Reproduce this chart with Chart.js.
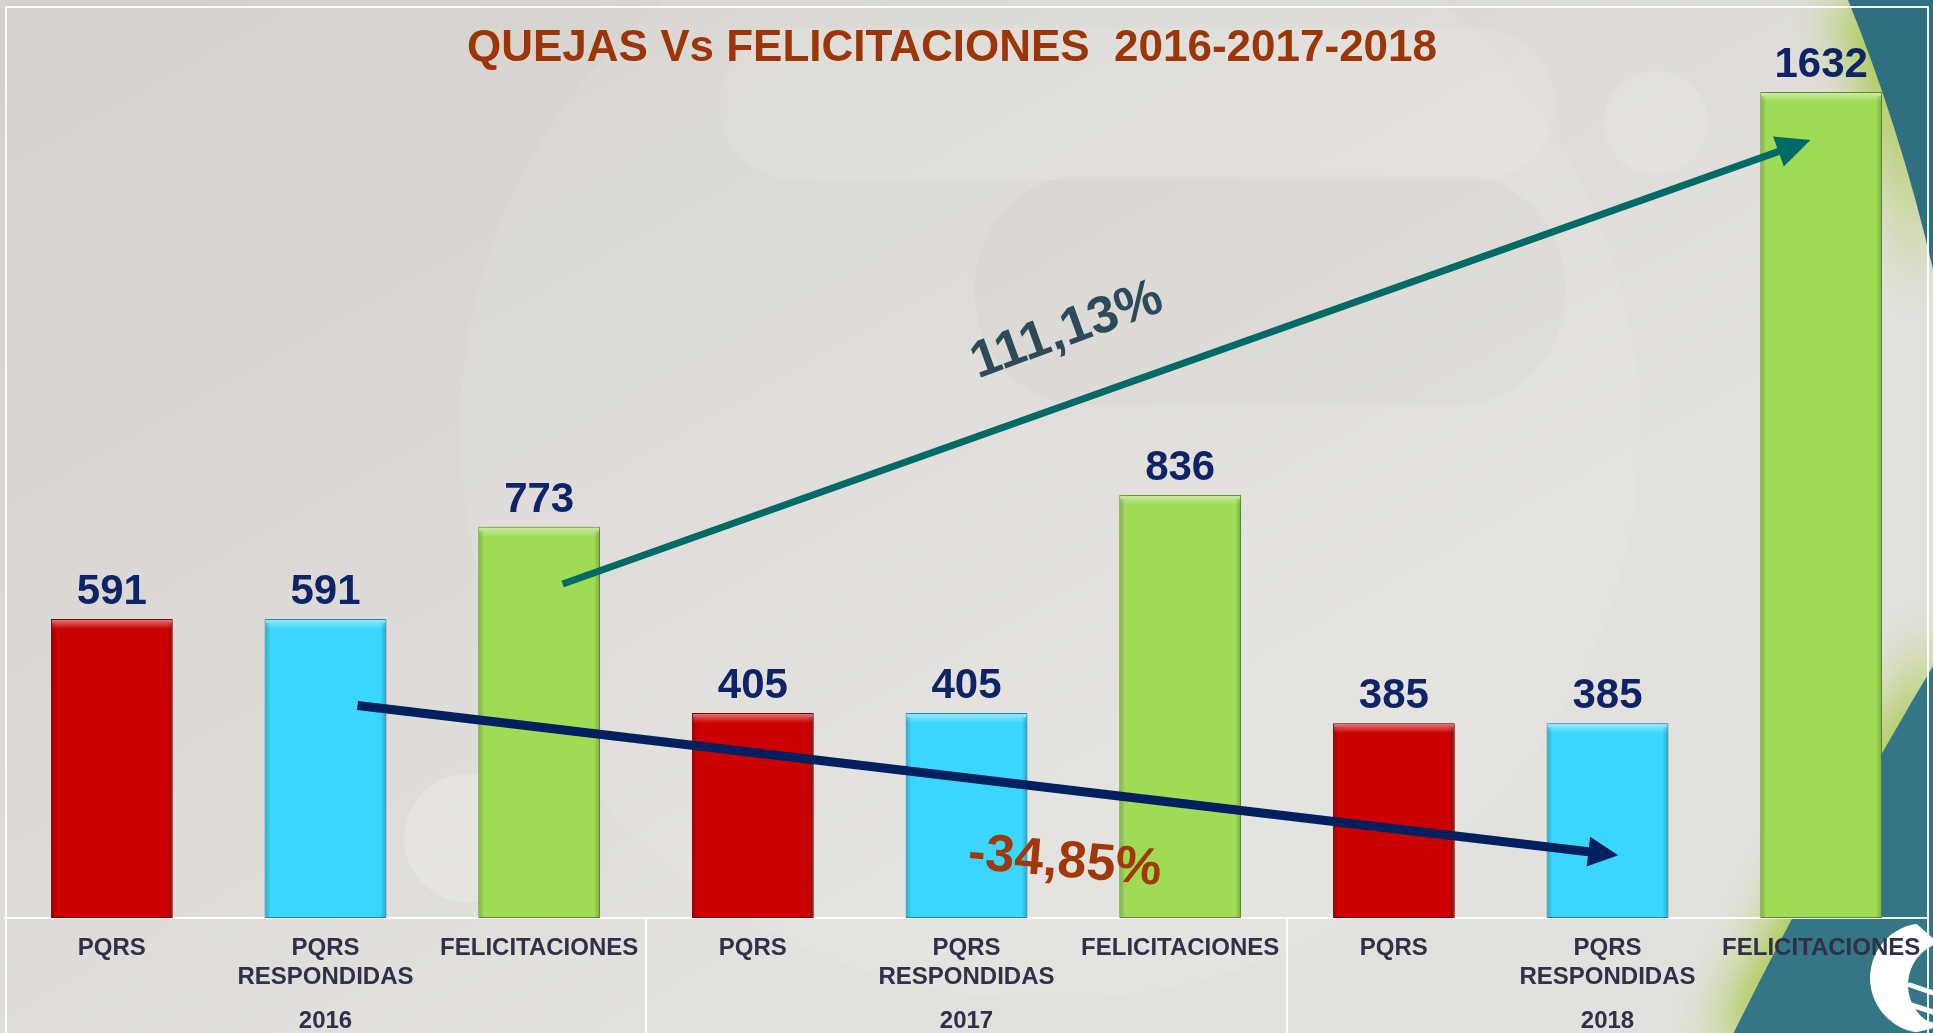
<!DOCTYPE html>
<html>
<head>
<meta charset="utf-8">
<script src="https://cdn.jsdelivr.net/npm/chart.js@4.4.0/dist/chart.umd.min.js"></script>
<style>
  html, body { margin: 0; padding: 0; overflow: hidden; background: #dcd9d5; }
  #wrap { width: 1933px; height: 1033px; position: relative; }
</style>
</head>
<body>
<div id="wrap"><canvas id="grafico"></canvas></div>
<script>
const categorias = [
  ['PQRS'], ['PQRS', 'RESPONDIDAS'], ['FELICITACIONES'],
  ['PQRS'], ['PQRS', 'RESPONDIDAS'], ['FELICITACIONES'],
  ['PQRS'], ['PQRS', 'RESPONDIDAS'], ['FELICITACIONES'],
];
const anios = ['2016', '2017', '2018'];
const valores = [591, 591, 773, 405, 405, 836, 385, 385, 1632];
const titulo = 'QUEJAS Vs FELICITACIONES  2016-2017-2018';

// flechas y porcentajes en coordenadas de datos (indice categoria, valor)
const flechaSube = { desde: [2.11, 660], hasta: [7.95, 1537] };
const flechaBaja = { desde: [1.15, 420], hasta: [7.05, 124] };
const notaSube = { texto: '111,13%', pos: [4.47, 1160], giro: -20 };
const notaBaja = { texto: '-34,85%', pos: [4.46, 110], giro: 5 };

const FUENTE = "'Liberation Sans', Arial, sans-serif";
const paleta = ['#CC0000', '#3AD6FD', '#9FDB55'];
const colores = valores.map((v, i) => paleta[i % 3]);
const bordes = valores.map((v, i) => ['#8E0000', '#1E9CC0', '#6E9E34'][i % 3]);

function ellipse(ctx, x, y, rx, ry, color) {
  ctx.beginPath();
  ctx.ellipse(x, y, rx, ry, 0, 0, Math.PI * 2);
  ctx.fillStyle = color;
  ctx.fill();
}

function roundRect(ctx, x, y, w, h, r, color) {
  ctx.beginPath();
  ctx.roundRect(x, y, w, h, r);
  ctx.fillStyle = color;
  ctx.fill();
}

const fondo = {
  id: 'fondo',
  beforeDraw(chart) {
    const { ctx, width, height } = chart;
    ctx.save();
    const g = ctx.createLinearGradient(0, 0, width * 0.3, height);
    g.addColorStop(0, '#D4D1CD');
    g.addColorStop(1, '#E3E1DD');
    ctx.fillStyle = g;
    ctx.fillRect(0, 0, width, height);

    // marca de agua difusa
    ellipse(ctx, 1050, 430, 590, 570, 'rgba(255,255,255,0.08)');
    roundRect(ctx, 975, 175, 590, 230, 110, 'rgba(110,100,90,0.035)');
    roundRect(ctx, 720, 28, 836, 152, 76, 'rgba(255,255,255,0.1)');
    ellipse(ctx, 1656, 123, 52, 52, 'rgba(255,255,255,0.14)');
    ellipse(ctx, 468, 838, 64, 64, 'rgba(255,255,255,0.2)');

    // franjas teal a la derecha con brillo verde
    ctx.shadowColor = 'rgba(160,200,60,0.95)';
    ctx.shadowBlur = 50;
    ctx.shadowOffsetX = -18;
    ctx.fillStyle = '#306F80';
    ctx.beginPath();
    ctx.moveTo(1848, 0);
    ctx.quadraticCurveTo(1905, 140, 1940, 300);
    ctx.lineTo(1940, 0);
    ctx.closePath();
    ctx.fill();
    ctx.fillStyle = '#347686';
    ctx.beginPath();
    ctx.moveTo(1955, 630);
    ctx.quadraticCurveTo(1850, 800, 1730, 1040);
    ctx.lineTo(1940, 1040);
    ctx.closePath();
    ctx.fill();
    ctx.shadowColor = 'transparent';
    ctx.shadowBlur = 0;
    ctx.shadowOffsetX = 0;

    // logo blanco
    ctx.fillStyle = '#FFFFFF';
    ctx.beginPath();
    ctx.arc(1925, 978, 55, Math.PI * 0.55, Math.PI * 1.45);
    ctx.arc(1952, 985, 44, Math.PI * 1.4, Math.PI * 0.6, true);
    ctx.closePath();
    ctx.fill();
    ctx.lineCap = 'round';
    ctx.strokeStyle = '#FFFFFF';
    ctx.lineWidth = 5;
    [[1910, 985, 1933, 993], [1902, 1002, 1933, 1012], [1910, 1018, 1933, 1025]].forEach(([a, b, c, d]) => {
      ctx.beginPath();
      ctx.moveTo(a, b);
      ctx.lineTo(c, d);
      ctx.stroke();
    });

    // marco blanco
    const area = chart.chartArea;
    const x = chart.scales.x;
    ctx.strokeStyle = 'rgba(255,255,255,0.92)';
    ctx.lineWidth = 2;
    ctx.beginPath();
    ctx.moveTo(area.left + 1, height);
    ctx.lineTo(area.left + 1, area.top);
    ctx.lineTo(area.right, area.top);
    ctx.lineTo(area.right, height);
    ctx.moveTo(area.left, area.bottom);
    ctx.lineTo(area.right, area.bottom);
    [2, 5].forEach(i => {
      const px = (x.getPixelForValue(i) + x.getPixelForValue(i + 1)) / 2;
      ctx.moveTo(px, area.bottom);
      ctx.lineTo(px, height);
    });
    ctx.stroke();
    ctx.restore();
  },
  beforeDatasetDraw(chart) {
    const ctx = chart.ctx;
    ctx.save();
    ctx.shadowColor = 'rgba(0,0,0,0.28)';
    ctx.shadowBlur = 6;
    ctx.shadowOffsetX = 2;
  },
  afterDatasetDraw(chart) {
    chart.ctx.restore();
  },
};

function drawArrow(ctx, x1, y1, x2, y2, color, lw, hl, hw) {
  const ang = Math.atan2(y2 - y1, x2 - x1);
  const bx = x2 - Math.cos(ang) * hl;
  const by = y2 - Math.sin(ang) * hl;
  ctx.strokeStyle = color;
  ctx.fillStyle = color;
  ctx.lineWidth = lw;
  ctx.lineCap = 'butt';
  ctx.beginPath();
  ctx.moveTo(x1, y1);
  ctx.lineTo(bx + Math.cos(ang) * 2, by + Math.sin(ang) * 2);
  ctx.stroke();
  ctx.beginPath();
  ctx.moveTo(x2, y2);
  ctx.lineTo(bx + Math.sin(ang) * hw / 2, by - Math.cos(ang) * hw / 2);
  ctx.lineTo(bx - Math.sin(ang) * hw / 2, by + Math.cos(ang) * hw / 2);
  ctx.closePath();
  ctx.fill();
}

const extras = {
  id: 'extras',
  afterDatasetsDraw(chart) {
    const { ctx } = chart;
    const xs = chart.scales.x;
    const ys = chart.scales.y;
    const px = p => [xs.getPixelForValue(p[0]), ys.getPixelForValue(p[1])];
    ctx.save();

    // relieve de las barras
    chart.getDatasetMeta(0).data.forEach(bar => {
      const l = bar.x - bar.width / 2;
      const h = bar.base - bar.y;
      let g = ctx.createLinearGradient(0, bar.y, 0, bar.y + 10);
      g.addColorStop(0, 'rgba(255,255,255,0.5)');
      g.addColorStop(1, 'rgba(255,255,255,0)');
      ctx.fillStyle = g;
      ctx.fillRect(l + 1, bar.y + 1, bar.width - 2, 10);
      g = ctx.createLinearGradient(l, 0, l + 6, 0);
      g.addColorStop(0, 'rgba(0,0,0,0.22)');
      g.addColorStop(1, 'rgba(0,0,0,0)');
      ctx.fillStyle = g;
      ctx.fillRect(l + 1, bar.y + 4, 6, h - 4);
      g = ctx.createLinearGradient(l + bar.width, 0, l + bar.width - 6, 0);
      g.addColorStop(0, 'rgba(0,0,0,0.22)');
      g.addColorStop(1, 'rgba(0,0,0,0)');
      ctx.fillStyle = g;
      ctx.fillRect(l + bar.width - 7, bar.y + 4, 6, h - 4);
    });

    // valores sobre las barras
    ctx.font = 'bold 42px ' + FUENTE;
    ctx.fillStyle = '#0E2466';
    ctx.textAlign = 'center';
    ctx.textBaseline = 'alphabetic';
    chart.getDatasetMeta(0).data.forEach((bar, i) => {
      ctx.fillText(String(valores[i]), bar.x, bar.y - 15);
    });

    // flechas
    let a = px(flechaSube.desde), b = px(flechaSube.hasta);
    drawArrow(ctx, a[0], a[1], b[0], b[1], '#006A66', 7, 34, 32);
    a = px(flechaBaja.desde); b = px(flechaBaja.hasta);
    drawArrow(ctx, a[0], a[1], b[0], b[1], '#002060', 9, 30, 30);

    // porcentajes
    [[notaSube, '#2C4A5A'], [notaBaja, '#A0380A']].forEach(([n, color]) => {
      const p = px(n.pos);
      ctx.save();
      ctx.translate(p[0], p[1]);
      ctx.rotate(n.giro * Math.PI / 180);
      ctx.font = 'bold 52px ' + FUENTE;
      ctx.fillStyle = color;
      ctx.textAlign = 'center';
      ctx.textBaseline = 'middle';
      ctx.fillText(n.texto, 0, 0);
      ctx.restore();
    });

    // titulo
    ctx.font = 'bold 44px ' + FUENTE;
    ctx.fillStyle = '#9C3508';
    ctx.textAlign = 'center';
    ctx.textBaseline = 'alphabetic';
    ctx.fillText(titulo, 952, 61);
    ctx.restore();
  },
};

const etiquetaFuente = { family: FUENTE, size: 24, weight: 'bold', lineHeight: 1.2 };

new Chart(document.getElementById('grafico'), {
  type: 'bar',
  data: {
    labels: categorias,
    datasets: [{
      data: valores,
      backgroundColor: colores,
      borderColor: bordes,
      borderWidth: 1,
      borderSkipped: false,
      categoryPercentage: 1,
      barPercentage: 0.57,
    }],
  },
  options: {
    responsive: true,
    maintainAspectRatio: false,
    animation: false,
    events: [],
    layout: { padding: { left: 5, right: 5, top: 7, bottom: 0 } },
    plugins: {
      legend: { display: false },
      tooltip: { enabled: false },
      title: { display: false },
    },
    scales: {
      y: { display: false, min: 0, max: 1800 },
      x: {
        grid: { display: false },
        border: { display: false },
        ticks: {
          color: '#30304A',
          font: etiquetaFuente,
          padding: 8,
          maxRotation: 0,
          autoSkip: false,
        },
        afterFit(s) { s.height = 76; },
      },
      x2: {
        type: 'category',
        labels: anios,
        position: 'bottom',
        offset: true,
        grid: { display: false },
        border: { display: false },
        ticks: {
          color: '#30304A',
          font: etiquetaFuente,
          padding: 5,
          maxRotation: 0,
        },
        afterFit(s) { s.height = 39; },
      },
    },
  },
  plugins: [fondo, extras],
});
</script>
</body>
</html>
